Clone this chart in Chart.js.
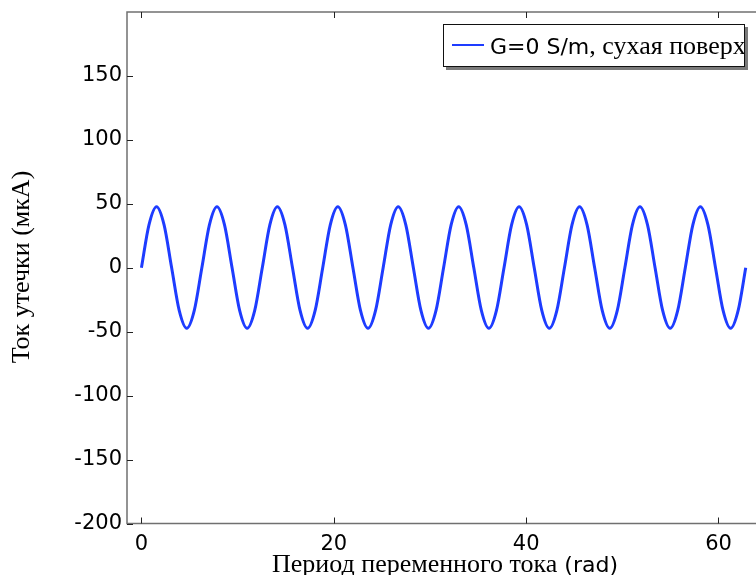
<!DOCTYPE html>
<html>
<head>
<meta charset="utf-8">
<script src="https://cdn.jsdelivr.net/npm/chart.js@4.4.1/dist/chart.umd.min.js"></script>
<style>
  html, body { margin: 0; padding: 0; background: #fff; overflow: hidden; }
  canvas { display: block; }
</style>
</head>
<body>
<canvas id="myChart" width="756" height="575"></canvas>
<script>
// phase of the leakage current, rad (one sample every quarter of pi)
let phase = [
  0, 0.785, 1.571, 2.356, 3.142, 3.927, 4.712, 5.498,
  6.283, 7.069, 7.854, 8.639, 9.425, 10.21, 10.996, 11.781,
  12.566, 13.352, 14.137, 14.923, 15.708, 16.493, 17.279, 18.064,
  18.85, 19.635, 20.42, 21.206, 21.991, 22.777, 23.562, 24.347,
  25.133, 25.918, 26.704, 27.489, 28.274, 29.06, 29.845, 30.631,
  31.416, 32.201, 32.987, 33.772, 34.558, 35.343, 36.128, 36.914,
  37.699, 38.485, 39.27, 40.055, 40.841, 41.626, 42.412, 43.197,
  43.982, 44.768, 45.553, 46.338, 47.124, 47.909, 48.695, 49.48,
  50.265, 51.051, 51.836, 52.622, 53.407, 54.192, 54.978, 55.763,
  56.549, 57.334, 58.119, 58.905, 59.69, 60.476, 61.261, 62.046,
  62.832
];

// leakage current, uA
let current = [
  0, 33.6, 47.8, 33.6, 0, -33.4, -47.4, -33.4,
  0, 33.6, 47.8, 33.6, 0, -33.4, -47.4, -33.4,
  0, 33.6, 47.8, 33.6, 0, -33.4, -47.4, -33.4,
  0, 33.6, 47.8, 33.6, 0, -33.4, -47.4, -33.4,
  0, 33.6, 47.8, 33.6, 0, -33.4, -47.4, -33.4,
  0, 33.6, 47.8, 33.6, 0, -33.4, -47.4, -33.4,
  0, 33.6, 47.8, 33.6, 0, -33.4, -47.4, -33.4,
  0, 33.6, 47.8, 33.6, 0, -33.4, -47.4, -33.4,
  0, 33.6, 47.8, 33.6, 0, -33.4, -47.4, -33.4,
  0, 33.6, 47.8, 33.6, 0, -33.4, -47.4, -33.4,
  0
];

let xTicks = [0, 20, 40, 60];
let yTicks = [-200, -150, -100, -50, 0, 50, 100, 150];

let seriesName = 'G=0 S/m, сухая поверх';
let xTitle = 'Период переменного тока (rad)';
let yTitle = 'Ток утечки (мкА)';

const SANS = '"DejaVu Sans"';
const SERIF = '"Liberation Serif"';

// split text into runs: cyrillic goes serif, the rest sans
function splitRuns(text) {
  let kind = [];
  for (let i = 0; i < text.length; i++) {
    let c = text[i];
    if (/[\u0400-\u04FF]/.test(c)) kind.push('serif');
    else if (/[A-Za-z0-9=]/.test(c)) kind.push('sans');
    else kind.push(null);
  }
  for (let i = 0; i < kind.length; i++) {
    if (kind[i] !== null) continue;
    let k = null;
    for (let j = i + 1; j < kind.length; j++) if (kind[j] !== null) { k = kind[j]; break; }
    if (k === null) for (let j = i - 1; j >= 0; j--) if (kind[j] !== null) { k = kind[j]; break; }
    kind[i] = k;
  }
  let runs = [];
  for (let i = 0; i < text.length; i++) {
    if (runs.length && runs[runs.length - 1].kind === kind[i]) runs[runs.length - 1].text += text[i];
    else runs.push({ kind: kind[i], text: text[i] });
  }
  return runs;
}

function drawMixed(ctx, text, x, y, sansPx, serifPx, align) {
  let runs = splitRuns(text);
  let fontOf = r => r.kind === 'serif' ? serifPx + 'px ' + SERIF : sansPx + 'px ' + SANS;
  let total = 0;
  for (let r of runs) { ctx.font = fontOf(r); r.w = ctx.measureText(r.text).width; total += r.w; }
  let cx = align === 'center' ? x - total / 2 : x;
  ctx.textAlign = 'left';
  ctx.textBaseline = 'alphabetic';
  for (let r of runs) { ctx.font = fontOf(r); ctx.fillText(r.text, cx, y); cx += r.w; }
}

// frame, inward ticks, axis titles and the boxed legend
const decor = {
  id: 'decor',
  afterDraw(chart) {
    const ctx = chart.ctx;
    const a = chart.chartArea;
    const xs = chart.scales.x, ys = chart.scales.y;
    ctx.save();

    ctx.strokeStyle = '#707070';
    ctx.lineWidth = 1.5;
    ctx.beginPath();
    ctx.moveTo(a.right, a.top); ctx.lineTo(a.left, a.top);
    ctx.lineTo(a.left, a.bottom); ctx.lineTo(a.right, a.bottom);
    ctx.stroke();

    ctx.strokeStyle = '#222';
    ctx.lineWidth = 1;
    ctx.beginPath();
    for (let v of xTicks) {
      let px = Math.round(xs.getPixelForValue(v)) + 0.5;
      ctx.moveTo(px, a.bottom); ctx.lineTo(px, a.bottom - 6);
      ctx.moveTo(px, a.top); ctx.lineTo(px, a.top + 6);
    }
    for (let v of yTicks) {
      let py = Math.round(ys.getPixelForValue(v)) + 0.5;
      ctx.moveTo(a.left, py); ctx.lineTo(a.left + 6, py);
    }
    ctx.stroke();

    ctx.fillStyle = '#000';
    drawMixed(ctx, xTitle, 445, 572, 22, 26, 'center');
    ctx.save();
    ctx.translate(29, 267);
    ctx.rotate(-Math.PI / 2);
    drawMixed(ctx, yTitle, 0, 0, 22, 26, 'center');
    ctx.restore();

    // legend box with a drop shadow
    let bx = 443, by = 24, bw = 302, bh = 43;
    ctx.fillStyle = '#7a7a7a';
    ctx.fillRect(bx + 3, by + 3, bw, bh);
    ctx.fillStyle = '#fff';
    ctx.fillRect(bx, by, bw, bh);
    ctx.strokeStyle = '#111';
    ctx.lineWidth = 1;
    ctx.strokeRect(bx + 0.5, by + 0.5, bw - 1, bh - 1);
    const ds = chart.data.datasets[0];
    ctx.strokeStyle = ds.borderColor;
    ctx.lineWidth = 2;
    ctx.beginPath();
    ctx.moveTo(452, 45); ctx.lineTo(484, 45);
    ctx.stroke();
    ctx.beginPath();
    ctx.rect(bx + 1, by + 1, bw - 2, bh - 2);
    ctx.clip();
    ctx.fillStyle = '#000';
    drawMixed(ctx, ds.label, 490, 54, 22, 26, 'left');

    ctx.restore();
  }
};

function Place() {
  const ctx = document.getElementById('myChart');
  let points = phase.map((p, i) => ({ x: p, y: current[i] }));

  new Chart(ctx, {
    type: 'line',
    data: {
      datasets: [{
        label: seriesName,
        data: points,
        borderColor: '#1e3cff',
        borderWidth: 3,
        pointRadius: 0,
        cubicInterpolationMode: 'monotone',
        fill: false
      }]
    },
    options: {
      responsive: false,
      animation: false,
      layout: { padding: { top: 12, right: 0, left: 0, bottom: 0 } },
      plugins: {
        legend: { display: false },
        tooltip: { enabled: false }
      },
      scales: {
        x: {
          type: 'linear',
          min: -1.5,
          max: 63.9,
          afterBuildTicks: s => { s.ticks = xTicks.map(v => ({ value: v })); },
          afterFit: s => { s.height = 51.5; s.paddingLeft = 0; s.paddingRight = 0; },
          grid: { display: false, drawTicks: false },
          border: { display: false },
          ticks: { color: '#000', font: { family: 'DejaVu Sans', size: 21 }, padding: 8, maxRotation: 0 }
        },
        y: {
          min: -200,
          max: 200,
          afterBuildTicks: s => { s.ticks = yTicks.map(v => ({ value: v })); },
          afterFit: s => { s.width = 127; s.paddingTop = 0; s.paddingBottom = 0; },
          grid: { display: false, drawTicks: false },
          border: { display: false },
          ticks: { color: '#000', font: { family: 'DejaVu Sans', size: 21 }, padding: 5 }
        }
      }
    },
    plugins: [decor]
  });
}

Place();
</script>
</body>
</html>
